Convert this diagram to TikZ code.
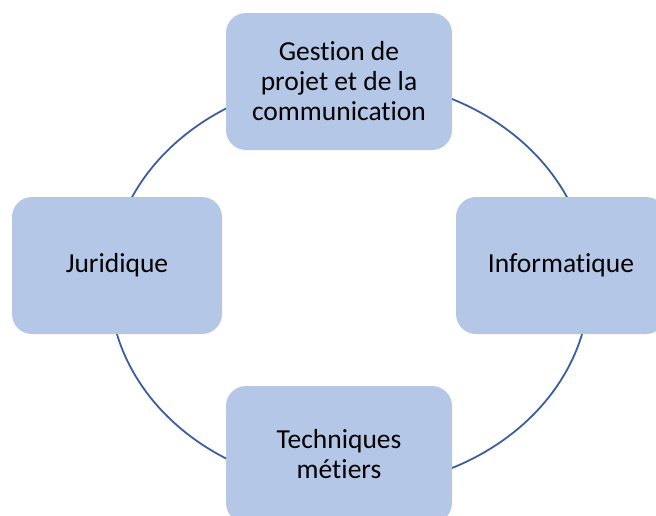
\documentclass[tikz,border=0pt]{standalone}
\usepackage{fontspec}
\setmainfont{Carlito}[Ligatures={NoCommon,NoContextual}]
\definecolor{boxfill}{RGB}{180,199,231}
\definecolor{ringcol}{RGB}{60,94,158}
\begin{document}
\begin{tikzpicture}[x=1pt,y=-1pt,
  box/.style={fill=boxfill, rounded corners=20pt, align=center,
    font=\fontsize{27.5}{30}\selectfont, inner sep=0pt, text=black},
  wide/.style={minimum width=226pt, minimum height=137pt},
  narrow/.style={minimum width=210pt, minimum height=137pt}]
\useasboundingbox (0,0) rectangle (656,515);
\clip (0,0) rectangle (656,515);
\coordinate (ringc) at (349.5,283.5);
\draw[ringcol, line width=1.8pt] (ringc) ellipse [x radius=240, y radius=204];
\node[box, wide] (gestion) at (339,81.5) {Gestion de\\projet et de la\\communication};
\node[box, narrow] (juridique) at (117,265.5) {Juridique};
\node[box, narrow] (info) at (561,265.5) {Informatique};
\node[box, wide] (tech) at (339,454.5) {Techniques\\métiers};
\end{tikzpicture}
\end{document}
